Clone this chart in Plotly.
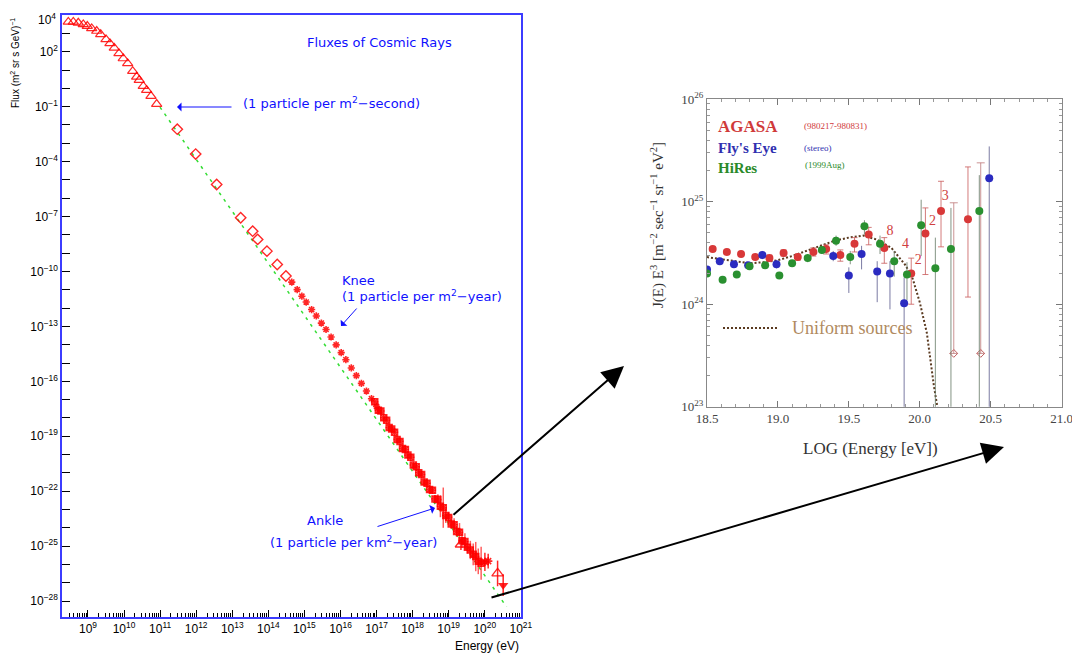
import numpy as np
import plotly.graph_objects as go

W, H = 1080, 657
OFF = 8  # page body margin

# ---------------- main panel: values (log10 E [eV], log10 flux)
tri_logE = [8.455, 8.593, 8.732, 8.870, 8.981, 9.103, 9.242, 9.353, 9.500, 9.610, 9.730,
            9.860, 9.979, 10.101, 10.240, 10.350, 10.422, 10.533, 10.627, 10.747, 10.905]
tri_logF = [3.63, 3.63, 3.58, 3.49, 3.40, 3.27, 3.13, 2.95, 2.67, 2.45, 2.21,
            1.91, 1.63, 1.36, 0.94, 0.63, 0.45, 0.12, -0.10, -0.42, -0.86]

dia_logE = [11.476, 11.986, 12.568, 13.233, 13.566, 13.704, 13.962, 14.247, 14.488]
dia_logF = [-2.23, -3.59, -5.25, -7.07, -7.80, -8.25, -8.89, -9.62, -10.25]

star_logE = [14.65, 14.80, 14.93, 15.05, 15.20, 15.33, 15.47, 15.60, 15.74, 15.88, 16.02,
             16.15, 16.30, 16.44, 16.58, 16.72, 16.86, 17.00]
star_logF = [-10.58, -10.99, -11.35, -11.67, -12.08, -12.43, -12.82, -13.17, -13.58, -14.01,
             -14.43, -14.82, -15.27, -15.69, -16.11, -16.53, -16.95, -17.37]

dense_logE = [16.95, 17.05, 17.12, 17.20, 17.28, 17.35, 17.42, 17.50, 17.57, 17.65,
              17.72, 17.80, 17.87, 17.95, 18.02, 18.10, 18.17, 18.25, 18.32, 18.40,
              18.47, 18.55, 18.62, 18.70, 18.77, 18.85, 18.92, 19.00, 19.07, 19.15,
              19.22, 19.30, 19.37, 19.45, 19.52, 19.60, 19.68, 19.75, 19.82, 19.90]
dense_logF = [-17.12, -17.58, -17.62, -17.99, -18.13, -18.52, -18.61, -18.78, -19.17, -19.28,
              -19.67, -19.72, -20.03, -20.15, -20.57, -20.67, -20.99, -21.09, -21.50, -21.57,
              -21.91, -21.95, -22.42, -22.46, -22.82, -22.90, -23.33, -23.43, -23.79, -23.83,
              -24.20, -24.24, -24.70, -24.75, -25.06, -25.21, -25.45, -25.57, -25.83, -25.93]
dense_err = [0.04, 0.04, 0.05, 0.04, 0.05, 0.05, 0.05, 0.06, 0.05, 0.06,
             0.06, 0.07, 0.06, 0.08, 0.07, 0.08, 0.10, 0.09, 0.12, 0.10,
             0.12, 0.15, 0.20, 0.30, 0.60, 1.10, 0.40, 0.30, 0.25, 0.35,
             0.30, 0.50, 0.40, 0.45, 0.35, 0.50, 0.60, 0.80, 0.70, 0.90]

tailtri_logE = [19.34, 20.356]
tailtri_logF = [-24.91, -26.49]
tailtri_err = [0.30, 0.70]
tailstar_logE = [20.004, 20.095]
tailstar_logF = [-25.86, -25.82]
tailstar_err = [0.50, 0.40]
limit_logE = [20.511]
limit_logF = [-27.13]
limit_err = [0.60]

fit_logE = [10.996, 20.605]
fit_logF = [-1.025, -28.32]

main_xlabels = list(range(9, 22))
main_ylabels = [2, -1, -4, -7, -10, -13, -16, -19, -22, -25, -28]
main_ytop = 4

# ---------------- inset panel (log10 E, log10 J E^3)
agasa_logE = [18.54, 18.64, 18.74, 18.84, 18.94, 19.04, 19.14, 19.25, 19.34, 19.44,
              19.54, 19.64, 19.75, 19.94, 20.04, 20.15, 20.34]
agasa_logJ = [24.54, 24.51, 24.49, 24.46, 24.45, 24.50, 24.46, 24.51, 24.54, 24.48,
              24.59, 24.68, 24.55, 24.30, 24.69, 24.91, 24.83]
agasa_eu = [0.02, 0.02, 0.02, 0.02, 0.03, 0.03, 0.03, 0.04, 0.04, 0.05,
            0.06, 0.07, 0.10, 0.15, 0.25, 0.29, 0.51]
agasa_ed = [0.02, 0.02, 0.02, 0.02, 0.03, 0.03, 0.03, 0.04, 0.05, 0.06,
            0.08, 0.10, 0.15, 0.30, 0.40, 0.35, 0.76]
agasa_lim_logE = [20.24, 20.43]
agasa_lim_logJ = [23.52, 23.52]
agasa_lim_eu = [1.47, 1.86]

fly_logE = [18.50, 18.59, 18.69, 18.79, 18.89, 18.99, 19.39, 19.50, 19.59, 19.70, 19.79, 19.89, 20.49]
fly_logJ = [24.34, 24.42, 24.39, 24.38, 24.48, 24.39, 24.47, 24.28, 24.49, 24.32, 24.30, 24.01, 25.23]
fly_eu = [0.03, 0.03, 0.03, 0.03, 0.04, 0.04, 0.05, 0.08, 0.08, 0.10, 0.12, 0.25, 0.31]
fly_ed = [0.03, 0.03, 0.03, 0.03, 0.04, 0.04, 0.05, 0.17, 0.15, 0.30, 0.35, 3.0, 3.0]

hires_logE = [18.50, 18.61, 18.71, 18.80, 18.91, 19.01, 19.10, 19.21, 19.31, 19.41,
              19.51, 19.61, 19.72, 19.82, 19.91, 20.01, 20.11, 20.22, 20.42]
hires_logJ = [24.30, 24.24, 24.29, 24.37, 24.38, 24.28, 24.40, 24.45, 24.53, 24.62,
              24.46, 24.76, 24.59, 24.42, 24.29, 24.77, 24.35, 24.54, 24.91]
hires_eu = [0.03, 0.03, 0.03, 0.03, 0.03, 0.03, 0.03, 0.04, 0.04, 0.05,
            0.06, 0.06, 0.08, 0.10, 0.12, 0.25, 0.30, 0.40, 0.35]
hires_ed = [0.03, 0.03, 0.03, 0.03, 0.03, 0.03, 0.03, 0.04, 0.04, 0.05,
            0.07, 0.08, 0.10, 0.15, 0.25, 0.30, 3.0, 3.0, 3.0]

unif_logE = [18.5, 18.6, 18.7, 18.8, 18.9, 19.0, 19.1, 19.2, 19.3, 19.4, 19.5, 19.6,
             19.7, 19.8, 19.9, 19.95, 20.0, 20.05, 20.1, 20.13]
unif_logJ = [24.46, 24.44, 24.42, 24.40, 24.41, 24.43, 24.47, 24.52, 24.57, 24.62, 24.65, 24.67,
             24.63, 24.55, 24.38, 24.25, 24.02, 23.72, 23.20, 22.95]

count_logE = [19.79, 19.90, 19.99, 20.09, 20.18]
count_logJ = [24.71, 24.58, 24.43, 24.81, 25.05]
count_text = ["8", "4", "2", "2", "3"]

inset_xlabels = [18.5, 19.0, 19.5, 20.0, 20.5, 21.0]
inset_ylabels = [23, 24, 25, 26]


def lin(a):
    return 10.0 ** np.asarray(a, dtype=float)


def errs(logv, up, dn):
    v = lin(logv)
    lv = np.asarray(logv, dtype=float)
    return lin(lv + np.asarray(up)) - v, v - lin(lv - np.asarray(dn))


def px(x):
    return (x - OFF) / W


def py(y):
    return 1 - (y - OFF) / H


RED = "rgba(255,0,0,0.85)"
fig = go.Figure()

# ---------------- main panel traces
fig.add_trace(go.Scatter(x=lin(fit_logE), y=lin(fit_logF), mode="lines",
                         line=dict(color="#33dd33", width=1.5, dash="3px,5px"), hoverinfo="skip"))
fig.add_trace(go.Scatter(x=lin(tri_logE), y=lin(tri_logF), mode="markers",
                         marker=dict(symbol="triangle-up-open", size=9, color=RED, line=dict(width=1.2))))
fig.add_trace(go.Scatter(x=lin(dia_logE), y=lin(dia_logF), mode="markers",
                         marker=dict(symbol="diamond-open", size=8, color=RED, line=dict(width=1.4))))
fig.add_trace(go.Scatter(x=lin(star_logE), y=lin(star_logF), mode="markers",
                         marker=dict(symbol="asterisk-open", size=6, color=RED, line=dict(width=1.6, color=RED))))
eu, ed = errs(dense_logF, dense_err, dense_err)
fig.add_trace(go.Scatter(x=lin(dense_logE), y=lin(dense_logF), mode="markers",
                         marker=dict(symbol="square-open", size=6, color=RED, line=dict(width=1.5)),
                         error_y=dict(type="data", array=eu, arrayminus=ed, color="rgba(255,40,40,0.75)",
                                      thickness=1.5, width=0)))
fig.add_trace(go.Scatter(x=lin(dense_logE), y=lin(dense_logF), mode="markers",
                         marker=dict(symbol="asterisk-open", size=6, color=RED, line=dict(width=1.6, color=RED))))
eu, ed = errs(tailtri_logF, tailtri_err, tailtri_err)
fig.add_trace(go.Scatter(x=lin(tailtri_logE), y=lin(tailtri_logF), mode="markers",
                         marker=dict(symbol="triangle-up-open", size=10, color=RED, line=dict(width=1.3)),
                         error_y=dict(type="data", array=eu, arrayminus=ed, color=RED, thickness=1.5, width=0)))
eu, ed = errs(tailstar_logF, tailstar_err, tailstar_err)
fig.add_trace(go.Scatter(x=lin(tailstar_logE), y=lin(tailstar_logF), mode="markers",
                         marker=dict(symbol="asterisk-open", size=7, color=RED, line=dict(width=1.6, color=RED)),
                         error_y=dict(type="data", array=eu, arrayminus=ed, color=RED, thickness=1.5, width=0)))
eu, ed = errs(limit_logF, limit_err, limit_err)
fig.add_trace(go.Scatter(x=lin(limit_logE), y=lin(limit_logF), mode="markers",
                         marker=dict(symbol="triangle-down", size=9, color=RED),
                         error_y=dict(type="data", array=eu, arrayminus=ed, color=RED, thickness=1.5, width=0)))

# ---------------- inset traces
IX, IY = "x2", "y2"
fig.add_trace(go.Scatter(x=unif_logE, y=lin(unif_logJ), xaxis=IX, yaxis=IY, mode="lines",
                         line=dict(color="#5a3a20", width=2, dash="2px,2px")))
eu, ed = errs(agasa_logJ, agasa_eu, agasa_ed)
fig.add_trace(go.Scatter(x=agasa_logE, y=lin(agasa_logJ), xaxis=IX, yaxis=IY, mode="markers",
                         marker=dict(symbol="circle", size=8, color="#d83838"),
                         error_y=dict(type="data", array=eu, arrayminus=ed, color="rgba(200,90,90,0.8)",
                                      thickness=1, width=3)))
eu, ed = errs(agasa_lim_logJ, agasa_lim_eu, [0, 0])
fig.add_trace(go.Scatter(x=agasa_lim_logE, y=lin(agasa_lim_logJ), xaxis=IX, yaxis=IY, mode="markers",
                         marker=dict(symbol="diamond-open", size=6, color="#c06060"),
                         error_y=dict(type="data", array=eu, arrayminus=ed, color="rgba(190,120,120,0.8)",
                                      thickness=1, width=4)))
eu, ed = errs(fly_logJ, fly_eu, fly_ed)
fig.add_trace(go.Scatter(x=fly_logE, y=lin(fly_logJ), xaxis=IX, yaxis=IY, mode="markers",
                         marker=dict(symbol="circle", size=8, color="#2b2bc0"),
                         error_y=dict(type="data", array=eu, arrayminus=ed, color="rgba(90,90,140,0.8)",
                                      thickness=1, width=0)))
eu, ed = errs(hires_logJ, hires_eu, hires_ed)
fig.add_trace(go.Scatter(x=hires_logE, y=lin(hires_logJ), xaxis=IX, yaxis=IY, mode="markers",
                         marker=dict(symbol="circle", size=8, color="#2a9030"),
                         error_y=dict(type="data", array=eu, arrayminus=ed, color="rgba(100,120,100,0.8)",
                                      thickness=1, width=0)))
fig.add_trace(go.Scatter(x=count_logE, y=lin(count_logJ), xaxis=IX, yaxis=IY, mode="text",
                         text=count_text, textfont=dict(family="Liberation Serif", size=14, color="#d04040")))


# ---------------- axes
def sup(k):
    s = str(k).replace("-", "\u2212")
    return "10<sup>" + s + "</sup>"


main_xmin, main_xmax = 8.28, 21.005
x_major = [10.0 ** k for k in range(9, 22)]
x_minor = [m * 10.0 ** k for k in range(8, 21) for m in range(2, 10) if 8.28 < np.log10(m * 10.0 ** k) < 21]
y_major = [10.0 ** k for k in range(-28, 5)]
y_text = [sup(k) if k in main_ylabels else "" for k in range(-28, 5)]

tickfont = dict(family="Liberation Sans", size=12, color="black")
fig.update_layout(
    width=W, height=H, margin=dict(l=0, r=0, t=0, b=0, autoexpand=False),
    paper_bgcolor="white", plot_bgcolor="white", showlegend=False,
    xaxis=dict(type="log", domain=[px(62), px(521)], range=[main_xmin, main_xmax], automargin=False,
               tickvals=x_major, ticktext=[sup(k) for k in main_xlabels], ticklabeloverflow="allow",
               ticks="inside", ticklen=7, tickwidth=1, tickcolor="black",
               minor=dict(tickvals=x_minor, ticks="inside", ticklen=4, tickcolor="black", tickwidth=1),
               showline=True, linecolor="#3c3cff", linewidth=1.5, mirror=True,
               showgrid=False, zeroline=False, tickfont=tickfont, anchor="y"),
    yaxis=dict(type="log", domain=[py(617), py(15)], range=[-28.87, 4.005], automargin=False,
               tickvals=y_major, ticktext=y_text, ticklabeloverflow="allow",
               ticks="inside", ticklen=8, tickwidth=1, tickcolor="black",
               showline=True, linecolor="#3c3cff", linewidth=1.5, mirror=True,
               showgrid=False, zeroline=False, tickfont=tickfont, anchor="x"),
)

inset_font = dict(family="Liberation Serif", size=13, color="#444444")
ix_minor = [round(18.5 + 0.1 * i, 2) for i in range(26) if round(18.5 + 0.1 * i, 2) not in inset_xlabels]
iy_minor = [m * 10.0 ** k for k in range(23, 26) for m in range(2, 10)]
fig.update_layout(
    xaxis2=dict(domain=[px(707), px(1062)], range=[18.5, 21.003], anchor="y2", automargin=False,
                tickvals=inset_xlabels, ticktext=["%.1f" % v for v in inset_xlabels],
                ticks="inside", ticklen=6, tickcolor="#777777",
                minor=dict(tickvals=ix_minor, ticks="inside", ticklen=3, tickcolor="#999999"),
                showline=True, linecolor="#888888", linewidth=1, mirror="allticks",
                showgrid=False, zeroline=False, tickfont=inset_font),
    yaxis2=dict(type="log", domain=[py(406.7), py(99.3)], range=[23, 26.0], anchor="x2", automargin=False,
                tickvals=[10.0 ** k for k in inset_ylabels], ticktext=[sup(k) for k in inset_ylabels],
                ticks="inside", ticklen=6, tickcolor="#777777",
                minor=dict(tickvals=iy_minor, ticks="inside", ticklen=3, tickcolor="#999999"),
                showline=True, linecolor="#888888", linewidth=1, mirror="allticks",
                showgrid=False, zeroline=False, tickfont=inset_font),
)

# ---------------- text and arrows
BLUE = "#1010ff"
bfont = dict(family="DejaVu Sans", size=13, color=BLUE)
ann = []


def text(x, y, s, font, xanchor="left", yanchor="middle", angle=0):
    ann.append(dict(x=px(x), y=py(y), xref="paper", yref="paper", text=s, showarrow=False,
                    font=font, xanchor=xanchor, yanchor=yanchor, textangle=angle))


def arrow(x0, y0, x1, y1, color, width, head, size):
    ann.append(dict(x=px(x1), y=py(y1), xref="paper", yref="paper", ax=x0 - x1, ay=y0 - y1,
                    text="", showarrow=True, arrowcolor=color, arrowwidth=width,
                    arrowhead=head, arrowsize=size, standoff=0, startstandoff=0))


# top label of the flux axis, kept inside the page
text(58, 9, sup(main_ytop), tickfont, xanchor="right", yanchor="top")

text(305, 42, "Fluxes of Cosmic Rays", bfont)
text(241, 103, "(1 particle per m<sup>2</sup>\u2212second)", bfont)
text(340, 280, "Knee", bfont)
text(340, 296, "(1 particle per m<sup>2</sup>\u2212year)", bfont)
text(305, 520, "Ankle", bfont)
text(268, 542, "(1 particle per km<sup>2</sup>\u2212year)", bfont)
arrow(233, 107, 177, 107, BLUE, 1, 1, 1.5)
arrow(358, 307, 341, 326, BLUE, 1, 1, 1.5)
arrow(376, 527, 435, 508, BLUE, 1, 1, 1.5)

text(15, 16, "Flux (m<sup>2</sup> sr s GeV)<sup>\u22121</sup>",
     dict(family="Liberation Sans", size=10, color="black"), xanchor="center", yanchor="top", angle=-90)
text(521, 646, "Energy (eV)", dict(family="Liberation Sans", size=12, color="black"),
     xanchor="right", yanchor="middle")

# inset texts
text(657, 225, "J(E) E<sup>3</sup> [m<sup>\u22122</sup> sec<sup>\u22121</sup> sr<sup>\u22121</sup> eV<sup>2</sup>]",
     dict(family="Liberation Serif", size=15, color="#333333"), xanchor="center", angle=-90)
text(870, 448, "LOG (Energy [eV])", dict(family="Liberation Serif", size=17, color="#333333"),
     xanchor="center")
text(716, 127, "<b>AGASA</b>", dict(family="Liberation Serif", size=17, color="#d03a3a"))
text(802, 126, "(980217-980831)", dict(family="Liberation Serif", size=9, color="#d03a3a"))
text(716, 148, "<b>Fly's Eye</b>", dict(family="Liberation Serif", size=15, color="#3030b0"))
text(802, 148, "(stereo)", dict(family="Liberation Serif", size=9, color="#3030b0"))
text(716, 168, "<b>HiRes</b>", dict(family="Liberation Serif", size=15, color="#2a8a2a"))
text(803, 165, "(1999Aug)", dict(family="Liberation Serif", size=9, color="#2a8a2a"))
text(790, 328, "Uniform sources", dict(family="Liberation Serif", size=18, color="#b08a60"))

# panel connector arrows
arrow(452, 516, 624, 366, "black", 2, 2, 2.2)
arrow(490, 598, 1004, 447, "black", 2, 2, 2.2)

fig.update_layout(annotations=ann,
                  shapes=[dict(type="line", xref="paper", yref="paper", x0=px(723), x1=px(778),
                               y0=py(328), y1=py(328), line=dict(color="#5a3a20", width=2, dash="2px,2px"))])

fig.write_html("out.html")
